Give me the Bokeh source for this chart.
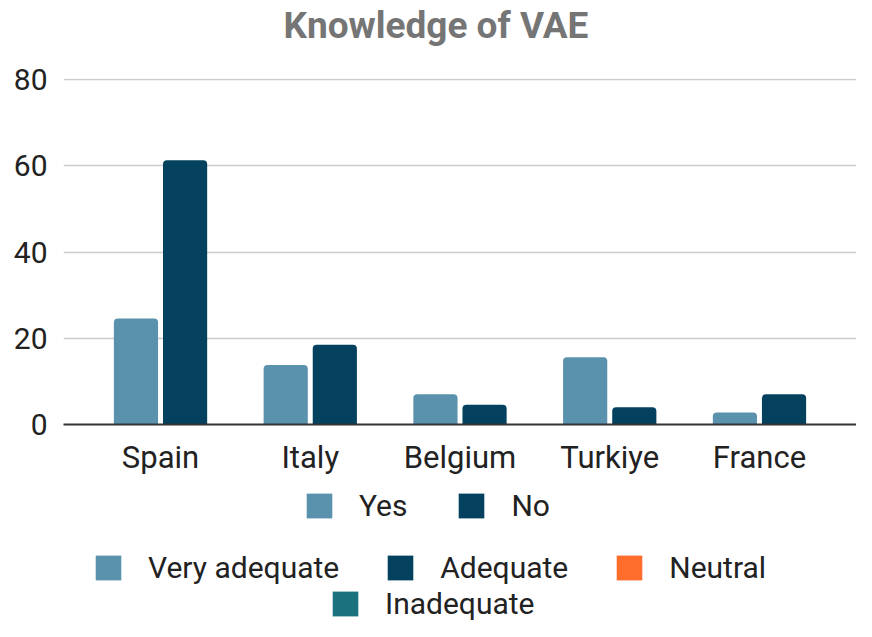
from bokeh.plotting import figure
from bokeh.models import FactorRange, Range1d, Legend, LegendItem, ColumnDataSource, FixedTicker
from bokeh.transform import dodge
from bokeh.layouts import column
from bokeh.embed import file_html
from bokeh.resources import INLINE

countries = ["Spain", "Italy", "Belgium", "Turkiye", "France"]
yes_values = [24.6, 13.8, 7.0, 15.6, 2.8]
no_values = [61.3, 18.5, 4.6, 4.0, 7.0]
y_ticks = [0, 20, 40, 60, 80]
series_names = ["Yes", "No"]
rating_names = ["Very adequate", "Adequate", "Neutral", "Inadequate"]
title_text = "Knowledge of VAE"

YES_C = "#5A91AC"
NO_C = "#03415F"
NEU_C = "#FF6D2D"
INA_C = "#1C717E"
FONT = "Roboto"

W = 856
H_TITLE = 60
H_MAIN = 424
H_LEG = 137
LEFT = 63


def blank_fig(h, **kw):
    f = figure(width=W, height=h, x_range=Range1d(0, 1), y_range=Range1d(0, 1),
               x_axis_type=None, y_axis_type=None, output_backend="svg",
               toolbar_location=None, min_border=0, min_border_left=LEFT, **kw)
    f.outline_line_color = None
    f.background_fill_color = "white"
    return f


# ---- title strip
tf = blank_fig(H_TITLE, title=title_text)
tf.title.align = "left"
tf.title.vertical_align = "top"
tf.title.offset = 220
tf.title.text_font = FONT
tf.title.text_font_style = "bold"
tf.title.text_font_size = "37px"
tf.title.text_color = "#757575"
tf.title.standoff = 6

# ---- main chart
src = ColumnDataSource(dict(country=countries, yes=yes_values, no=no_values))

p = figure(
    x_range=FactorRange(factors=countries, range_padding=0.0592),
    y_range=Range1d(0, 80.3),
    width=W, height=H_MAIN,
    output_backend="svg", toolbar_location=None,
    min_border_left=LEFT, min_border_right=0, min_border_top=18, min_border_bottom=60,
)
p.title.text_font_size = "1px"
p.title.standoff = 0
p.outline_line_color = None
p.background_fill_color = "white"

r_yes = p.vbar(x=dodge("country", -0.164, range=p.x_range), top="yes", width=0.295,
               source=src, fill_color=YES_C, line_color=None, border_radius=(4, 4, 0, 0))
r_no = p.vbar(x=dodge("country", 0.164, range=p.x_range), top="no", width=0.295,
              source=src, fill_color=NO_C, line_color=None, border_radius=(4, 4, 0, 0))

p.xaxis.major_label_text_font = FONT
p.xaxis.major_label_text_font_size = "31px"
p.xaxis.major_label_text_color = "#222222"
p.xaxis.major_tick_line_color = None
p.xaxis.minor_tick_line_color = None
p.xaxis.axis_line_color = "#333333"
p.xaxis.axis_line_width = 2
p.xaxis.major_label_standoff = 8

p.yaxis.ticker = FixedTicker(ticks=y_ticks)
p.yaxis.major_label_text_font = FONT
p.yaxis.major_label_text_font_size = "30px"
p.yaxis.major_label_text_color = "#222222"
p.yaxis.major_tick_line_color = None
p.yaxis.minor_tick_line_color = None
p.yaxis.axis_line_color = None
p.yaxis.major_label_standoff = 10

p.xgrid.grid_line_color = None
p.ygrid.grid_line_color = "#cccccc"
p.ygrid.grid_line_width = 1.5

# ---- legend strip
lf = blank_fig(H_LEG)
lsrc = ColumnDataSource(dict(x=[0.5], v=[0.0]))


def proxy(color):
    return lf.vbar(x="x", top="v", width=0.0, source=lsrc, fill_color=color, line_color=None)


l_yes, l_no = proxy(YES_C), proxy(NO_C)
l_va, l_ad, l_ne, l_in = proxy(YES_C), proxy(NO_C), proxy(NEU_C), proxy(INA_C)


def make_legend(items, loc, spacing):
    lg = Legend(items=items, orientation="horizontal", location=loc)
    lg.glyph_width = 32
    lg.glyph_height = 31
    lg.label_standoff = 24
    lg.spacing = spacing
    lg.padding = 0
    lg.margin = 0
    lg.border_line_color = None
    lg.background_fill_alpha = 0
    lg.label_text_font = FONT
    lg.label_text_font_size = "30px"
    lg.label_text_color = "#222222"
    lg.label_height = 36
    return lg


leg1 = make_legend([LegendItem(label=series_names[0], renderers=[l_yes]),
                    LegendItem(label=series_names[1], renderers=[l_no])], (240, 98), 48)
leg2 = make_legend([LegendItem(label=rating_names[0], renderers=[l_va]),
                    LegendItem(label=rating_names[1], renderers=[l_ad]),
                    LegendItem(label=rating_names[2], renderers=[l_ne])], (29, 36), 45)
leg3 = make_legend([LegendItem(label=rating_names[3], renderers=[l_in])], (266, 0), 45)
lf.add_layout(leg1, "center")
lf.add_layout(leg2, "center")
lf.add_layout(leg3, "center")

open("out.html", "w").write(file_html(column(tf, p, lf, spacing=0), INLINE))
